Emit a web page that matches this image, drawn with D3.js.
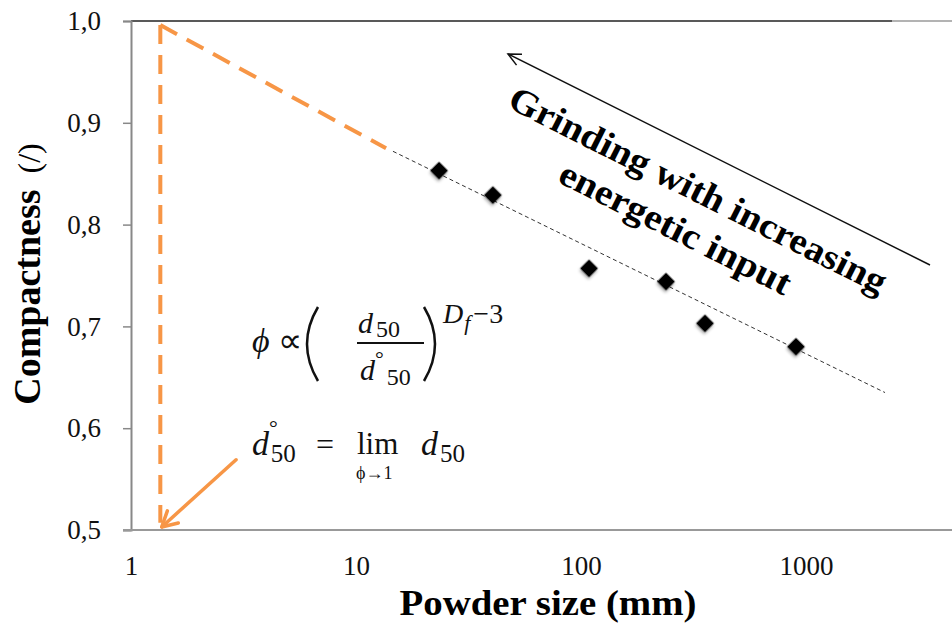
<!DOCTYPE html>
<html>
<head>
<meta charset="utf-8">
<script src="https://cdn.jsdelivr.net/npm/d3@7/dist/d3.min.js"></script>
<style>
  body { margin: 0; background: #fff; }
  svg { display: block; }
</style>
</head>
<body>
<svg id="chart" width="952" height="626"></svg>
<script>
// measured points (powder size, compactness)
var sizes = [23.4, 40.6, 108.6, 238.7, 355.8, 902.6];
var compactness = [0.853, 0.829, 0.757, 0.744, 0.703, 0.680];
var xTicks = [1, 10, 100, 1000];
var yTicks = [0.5, 0.6, 0.7, 0.8, 0.9, 1.0];
// fitted trend (black dotted) and its extrapolation (orange dashed)
var fitLine = [[14.6, 0.872], [2245, 0.635]];
var extrapLine = [[1.35, 0.996], [13.6, 0.875]];
var limitLine = [[1.35, 0.996], [1.35, 0.507]];
var limitArrow = [[2.93, 0.569], [1.37, 0.503]];

var W = 952, H = 626;
var SERIF = '"Liberation Serif", "Times New Roman", serif';
var orange = "#F79646";
var svg = d3.select("#chart");

var x = d3.scaleLog().domain([1, 1000]).range([131, 806]);
var y = d3.scaleLinear().domain([0.5, 1.0]).range([530, 21]);
var fr = d3.formatLocale({ decimal: ",", thousands: ".", grouping: [3], currency: ["", ""] });

var defs = svg.append("defs");
var f = defs.append("filter").attr("id", "shadow").attr("x", "-50%").attr("y", "-50%").attr("width", "200%").attr("height", "200%");
f.append("feDropShadow").attr("dx", 1).attr("dy", 2).attr("stdDeviation", 1.6).attr("flood-color", "#000").attr("flood-opacity", 0.35);

// frame
svg.append("line").attr("x1", 131).attr("x2", 892).attr("y1", 21).attr("y2", 21).attr("stroke", "#222").attr("stroke-width", 1.6);
svg.append("line").attr("x1", 892).attr("x2", W).attr("y1", 21).attr("y2", 21).attr("stroke", "#9a9a9a").attr("stroke-width", 1.6);

// y axis
var yAxis = svg.append("g").attr("transform", "translate(131,0)")
  .call(d3.axisLeft(y).tickValues(yTicks).tickSize(8).tickPadding(22).tickFormat(fr.format(".1f")));
yAxis.select(".domain").attr("stroke", "#888").attr("stroke-width", 2);
yAxis.selectAll(".tick line").attr("stroke", "#888").attr("stroke-width", 1.5);
yAxis.selectAll(".tick text").style("font-family", SERIF).attr("font-size", 27).attr("fill", "#111");

// x axis
var xAxis = svg.append("g").attr("transform", "translate(0,530)")
  .call(d3.axisBottom(x).tickValues(xTicks).tickSize(0).tickPadding(26).tickFormat(d3.format("d")));
xAxis.select(".domain").remove();
xAxis.selectAll(".tick text").style("font-family", SERIF).attr("font-size", 27).attr("fill", "#111");
svg.append("line").attr("x1", 123).attr("x2", W).attr("y1", 530).attr("y2", 530).attr("stroke", "#999").attr("stroke-width", 2);

// axis titles
svg.append("text").style("font-family", SERIF).attr("transform", "translate(40,274) rotate(-90)")
  .attr("text-anchor", "middle").attr("font-size", 38).attr("font-weight", "bold").attr("fill", "#000")
  .call(function(t) {
    t.append("tspan").text("Compactness");
    t.append("tspan").attr("font-weight", "normal").attr("font-size", 32).text("\u00a0\u00a0(/)");
  });
svg.append("text").style("font-family", SERIF).attr("x", 548).attr("y", 615)
  .attr("text-anchor", "middle").attr("font-size", 35).attr("font-weight", "bold").attr("fill", "#000")
  .attr("textLength", 297).attr("lengthAdjust", "spacingAndGlyphs")
  .text("Powder size (mm)");

var line = d3.line().x(function(d) { return x(d[0]); }).y(function(d) { return y(d[1]); });

// trend lines
svg.append("path").datum(fitLine).attr("d", line).attr("fill", "none")
  .attr("stroke", "#333").attr("stroke-width", 1).attr("stroke-dasharray", "4,3");
svg.append("path").datum(extrapLine).attr("d", line).attr("fill", "none")
  .attr("stroke", orange).attr("stroke-width", 4).attr("stroke-dasharray", "19,11");
svg.append("path").datum(limitLine).attr("d", line).attr("fill", "none")
  .attr("stroke", orange).attr("stroke-width", 4).attr("stroke-dasharray", "19,11");

// orange arrow to d50 limit
svg.append("path").datum(limitArrow).attr("d", line).attr("fill", "none")
  .attr("stroke", orange).attr("stroke-width", 3.5).attr("stroke-linecap", "round");
(function() {
  var p0 = [x(limitArrow[0][0]), y(limitArrow[0][1])];
  var p1 = [x(limitArrow[1][0]), y(limitArrow[1][1])];
  var a = Math.atan2(p0[1] - p1[1], p0[0] - p1[0]);
  var L = 17, s = 0.5;
  svg.append("path")
    .attr("d", "M" + (p1[0] + L * Math.cos(a - s)) + "," + (p1[1] + L * Math.sin(a - s)) +
      "L" + p1[0] + "," + p1[1] +
      "L" + (p1[0] + L * Math.cos(a + s)) + "," + (p1[1] + L * Math.sin(a + s)))
    .attr("fill", "none").attr("stroke", orange).attr("stroke-width", 3.5)
    .attr("stroke-linecap", "round").attr("stroke-linejoin", "round");
})();

// data points
svg.append("g").selectAll("path").data(sizes).enter().append("path")
  .attr("d", d3.symbol().type(d3.symbolSquare).size(160))
  .attr("transform", function(d, i) { return "translate(" + x(d) + "," + y(compactness[i]) + ") rotate(45)"; })
  .attr("fill", "#000").attr("filter", "url(#shadow)");

// grinding arrow
svg.append("line").attr("x1", 930).attr("y1", 265).attr("x2", 508).attr("y2", 54)
  .attr("stroke", "#111").attr("stroke-width", 1.5);
(function() {
  var a = Math.atan2(265 - 54, 930 - 508), L = 14, s = 0.45;
  svg.append("path")
    .attr("d", "M" + (508 + L * Math.cos(a - s)) + "," + (54 + L * Math.sin(a - s)) + "L508,54L" +
      (508 + L * Math.cos(a + s)) + "," + (54 + L * Math.sin(a + s)))
    .attr("fill", "none").attr("stroke", "#111").attr("stroke-width", 1.5);
})();

var g = svg.append("g").style("font-family", SERIF).attr("transform", "translate(698,190) rotate(26.7)")
  .attr("font-weight", "bold").attr("fill", "#000").attr("text-anchor", "middle");
g.append("text").attr("x", 0).attr("y", 12).attr("font-size", 36)
  .attr("textLength", 418).attr("lengthAdjust", "spacingAndGlyphs").text("Grinding with increasing");
g.append("text").attr("x", -3).attr("y", 56).attr("font-size", 36)
  .attr("textLength", 255).attr("lengthAdjust", "spacingAndGlyphs").text("energetic input");

// equations
var eq = svg.append("g").style("font-family", SERIF).attr("fill", "#111");
function tx(xp, yp, parts) {
  var t = eq.append("text").attr("x", xp).attr("y", yp);
  parts.forEach(function(p) {
    var s = t.append("tspan").attr("font-size", p.size).text(p.s);
    if (p.it) s.attr("font-style", "italic");
    if (p.dx) s.attr("dx", p.dx);
    if (p.dy) s.attr("dy", p.dy);
  });
  return t;
}
tx(252, 352, [{ s: "\u03d5", size: 34, it: 1 }, { s: " \u221d", size: 34 }]);
eq.append("path").attr("d", "M318,307Q296,344 318,381").attr("fill", "none").attr("stroke", "#111").attr("stroke-width", 2.5);
eq.append("path").attr("d", "M424,307Q446,344 424,381").attr("fill", "none").attr("stroke", "#111").attr("stroke-width", 2.5);
tx(358, 333, [{ s: "d", size: 30, it: 1 }, { s: "50", size: 24, dx: 3, dy: 4 }]);
eq.append("line").attr("x1", 357).attr("x2", 424).attr("y1", 343).attr("y2", 343).attr("stroke", "#111").attr("stroke-width", 2);
tx(360, 380, [{ s: "d", size: 30, it: 1 }, { s: "\u00b0", size: 22, dx: 0, dy: -14 }, { s: "50", size: 24, dx: 3, dy: 19 }]);
tx(443, 323, [{ s: "D", size: 28, it: 1 }, { s: "f", size: 22, it: 1, dx: 1, dy: 7 }, { s: "\u22123", size: 28, dx: 3, dy: -7 }]);

tx(252, 455, [{ s: "d", size: 34, it: 1 }, { s: "\u00b0", size: 22, dx: 0, dy: -20 }, { s: "50", size: 25, dx: -7, dy: 27 }]);
tx(316, 455, [{ s: "=", size: 32 }]);
tx(357, 454, [{ s: "lim", size: 31 }]);
tx(356, 479, [{ s: "\u03d5\u21921", size: 18 }]);
tx(421, 455, [{ s: "d", size: 34, it: 1 }, { s: "50", size: 25, dx: 2, dy: 7 }]);
</script>
</body>
</html>
